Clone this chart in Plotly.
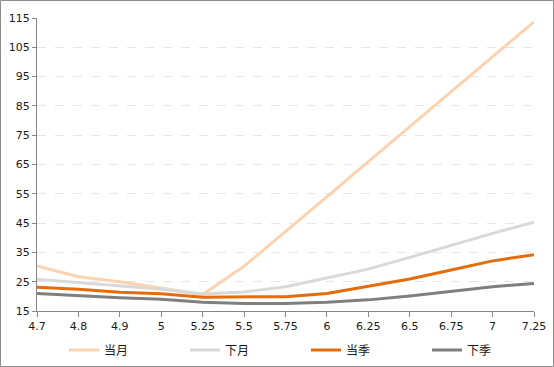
import plotly.graph_objects as go

categories = ["4.7", "4.8", "4.9", "5", "5.25", "5.5", "5.75", "6", "6.25", "6.5", "6.75", "7", "7.25"]
dangyue = [30.4, 26.7, 25.0, 22.8, 20.6, 30.3, 42.0, 54.0, 66.0, 78.0, 90.0, 102.0, 113.7]
xiayue = [25.8, 24.7, 23.5, 22.4, 20.8, 21.5, 23.3, 26.4, 29.3, 33.3, 37.5, 41.5, 45.3]
dangji = [23.1, 22.4, 21.4, 20.9, 19.7, 19.7, 19.9, 21.0, 23.5, 25.9, 29.0, 32.1, 34.2]
xiaji = [21.0, 20.2, 19.5, 19.0, 18.0, 17.6, 17.6, 18.0, 18.8, 20.1, 21.6, 23.3, 24.4]
series_names = ["当月", "下月", "当季", "下季"]
y_ticks = [15, 25, 35, 45, 55, 65, 75, 85, 95, 105, 115]

colors = ["#FCD3B0", "#D9D9D9", "#E46C0A", "#7F7F7F"]
series = [dangyue, xiayue, dangji, xiaji]

fig = go.Figure()
for name, vals, c in zip(series_names, series, colors):
    fig.add_trace(go.Scatter(x=categories, y=vals, name=name, mode="lines",
                             line=dict(color=c, width=3)))

W, H = 554, 367
L, R, T, B = 37, 20, 18, 56
pw, ph = W - L - R, H - T - B

def px2paper_x(px):
    return (px - L) / pw

def px2paper_y(py):
    return (H - B - py) / ph

fig.update_layout(
    width=W, height=H,
    margin=dict(l=L, r=R, t=T, b=B, pad=0, autoexpand=False),
    paper_bgcolor="white", plot_bgcolor="white",
    font=dict(family="DejaVu Sans", size=11, color="#1a1a1a"),
    xaxis=dict(type="category", range=[0, len(categories) - 1],
               showline=True, linecolor="#868686", linewidth=1,
               ticks="outside", ticklen=5, tickcolor="#868686",
               showgrid=False, zeroline=False, automargin=False,
               tickfont=dict(family="DejaVu Sans", size=11)),
    yaxis=dict(range=[15, 115], tickvals=y_ticks,
               showline=True, linecolor="#868686", linewidth=1,
               ticks="outside", ticklen=4, tickcolor="#868686",
               showgrid=True, gridcolor="#E6E6E6", griddash="dash", gridwidth=1,
               zeroline=False, automargin=False,
               tickfont=dict(family="DejaVu Sans", size=11)),
    legend=dict(orientation="h", xref="container", x=64 / W, xanchor="left",
                yref="container", y=(H - 350) / H, yanchor="middle",
                entrywidth=76, entrywidthmode="pixels",
                font=dict(family="Noto Sans CJK SC", size=12, color="#1a1a1a"),
                bgcolor="rgba(0,0,0,0)"),
    showlegend=True,
    shapes=[dict(type="rect", xref="paper", yref="paper",
                 x0=px2paper_x(0.5), x1=px2paper_x(553.5),
                 y0=px2paper_y(366.5), y1=px2paper_y(0.5),
                 line=dict(color="#8C8C8C", width=1), layer="below")],
)

fig.write_html("out.html", config={"displayModeBar": False},
               post_script="document.body.style.margin='0';document.body.style.overflow='hidden';")
